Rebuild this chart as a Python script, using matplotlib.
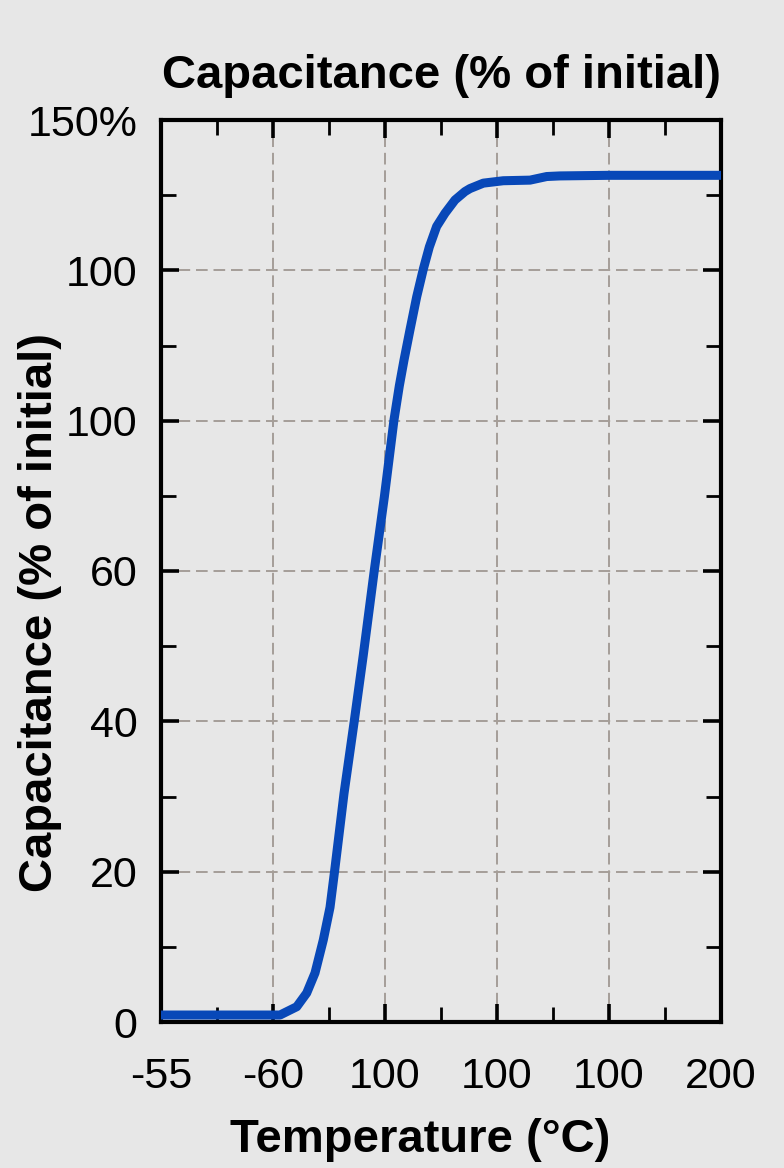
import matplotlib.pyplot as plt
import numpy as np

plt.rcParams['font.family'] = ['Liberation Sans', 'DejaVu Sans']

# datos de la curva (posicion en el eje x, valor en escala 0-150)
temp_pos = [0, 0.5, 1.0, 1.0625, 1.122, 1.212, 1.301, 1.375, 1.449, 1.509,
            1.55, 1.634, 1.726, 1.806, 1.905, 1.994, 2.080, 2.128, 2.170,
            2.223, 2.283, 2.342, 2.396, 2.461, 2.536, 2.625, 2.714, 2.759,
            2.878, 3.056, 3.295, 3.444, 3.56, 4.0, 4.5, 5.0]
capacitance = [1.16, 1.16, 1.16, 1.16, 1.71, 2.54, 4.82, 8.15, 13.64, 19.06,
               25.1, 38.0, 50.1, 61.0, 75.2, 87.3, 100.1, 105.8, 110.1,
               115.1, 120.6, 125.2, 128.9, 132.3, 134.5, 136.7, 138.1, 138.6,
               139.5, 139.9, 140.0, 140.6, 140.7, 140.8, 140.8, 140.8]

x_ticks = [0, 1, 2, 3, 4, 5]
x_labels = ['-55', '-60', '100', '100', '100', '200']
y_ticks = [0, 25, 50, 75, 100, 125, 150]
y_labels = ['0', '20', '40', '60', '100', '100', '150%']

bg = '#e7e7e7'
fig = plt.figure(figsize=(7.84, 11.68), dpi=100, facecolor=bg)
ax = fig.add_axes([161/784, 146/1168, 560/784, 902/1168], facecolor=bg)

ax.plot(temp_pos, capacitance, color='#0848b8', linewidth=6.5,
        solid_capstyle='butt', solid_joinstyle='round', zorder=3)

ax.set_xlim(0, 5)
ax.set_ylim(0, 150)
ax.set_xticks(x_ticks)
ax.set_xticklabels(x_labels)
ax.set_yticks(y_ticks)
ax.set_yticklabels(y_labels)
ax.set_xticks(np.arange(0.5, 5, 1), minor=True)
ax.set_yticks(np.arange(12.5, 150, 25), minor=True)

ax.tick_params(which='both', direction='in', top=True, right=True, colors='black')
ax.tick_params(which='major', length=13, width=2.6, labelsize=31)
ax.tick_params(which='minor', length=11, width=2.0)
ax.tick_params(axis='x', which='major', pad=25)
ax.tick_params(axis='y', which='major', pad=17)

for s in ax.spines.values():
    s.set_linewidth(3)
    s.set_color('black')

# rejilla discontinua
for xv in x_ticks[1:-1]:
    ax.axvline(xv, color='#a59e98', linewidth=1.4, dashes=(6, 3), zorder=1)
for yv in y_ticks[1:-1]:
    ax.axhline(yv, color='#a59e98', linewidth=1.4, dashes=(6, 3), zorder=1)

ax.set_title('Capacitance (% of initial)', fontsize=34, fontweight='bold', pad=23)
fig.text(40/784, 1 - 612/1168, 'Capacitance (% of initial)', rotation=90,
         fontsize=34, fontweight='bold', ha='center', va='center')
fig.text(420/784, (1168 - 1152)/1168, 'Temperature (°C)', fontsize=34,
         fontweight='bold', ha='center', va='baseline')

fig.savefig('out.png', dpi=100, facecolor=bg)
